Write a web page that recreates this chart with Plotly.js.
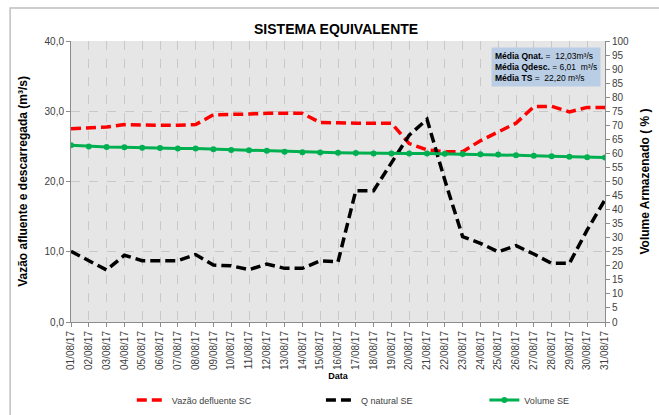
<!DOCTYPE html>
<html>
<head>
<meta charset="utf-8">
<script src="https://cdn.plot.ly/plotly-3.0.1.min.js"></script>
<style>html,body{margin:0;padding:0;background:#fff;}#chart{width:659px;height:415px;}</style>
</head>
<body>
<div id="chart"></div>
<script>
const dates = ["01/08/17","02/08/17","03/08/17","04/08/17","05/08/17","06/08/17","07/08/17","08/08/17","09/08/17","10/08/17",
  "11/08/17","12/08/17","13/08/17","14/08/17","15/08/17","16/08/17","17/08/17","18/08/17","19/08/17","20/08/17",
  "21/08/17","22/08/17","23/08/17","24/08/17","25/08/17","26/08/17","27/08/17","28/08/17","29/08/17","30/08/17","31/08/17"];
const vazaoDefluenteSC = [27.5,27.6,27.75,28.1,28.0,28.0,28.0,28.1,29.5,29.5,29.6,29.7,29.7,29.7,28.4,28.3,28.3,28.3,28.3,25.4,
  24.5,24.25,24.25,25.8,27.1,28.3,30.65,30.7,29.9,30.55,30.55];
const qNaturalSE = [10.06,8.73,7.4,9.5,8.73,8.73,8.73,9.6,8.1,8.0,7.45,8.25,7.64,7.64,8.7,8.57,18.7,18.7,22.6,26.6,
  28.85,20.2,12.15,11.2,10.0,10.87,9.68,8.35,8.35,13.1,17.4];
const volumeSE = [62.9,62.5,62.3,62.2,62.0,61.9,61.7,61.7,61.5,61.2,61.1,60.9,60.6,60.4,60.35,60.2,60.1,60.0,60.0,60.0,
  60.0,59.9,59.8,59.7,59.6,59.3,59.2,59.0,58.8,58.6,58.5];
const leftTicks = [0,10,20,30,40];
const rightTicks = [0,5,10,15,20,25,30,35,40,45,50,55,60,65,70,75,80,85,90,95,100];

const tickFont = {family: "Liberation Sans, Arial, sans-serif", size: 10, color: "#404040"};
const titleFont = {family: "Liberation Sans, Arial, sans-serif", size: 12, color: "#000"};

const traces = [
  {x: dates, y: vazaoDefluenteSC, name: "Vazão defluente SC", type: "scatter", mode: "lines",
   line: {color: "#ff0000", width: 3.5, dash: "10px,5px"}, legend: "legend", yaxis: "y"},
  {x: dates, y: qNaturalSE, name: "Q natural SE", type: "scatter", mode: "lines",
   line: {color: "#000000", width: 3.5, dash: "10px,5px"}, legend: "legend2", yaxis: "y"},
  {x: dates, y: volumeSE, name: "Volume SE", type: "scatter", mode: "lines+markers",
   line: {color: "#00b050", width: 3}, marker: {color: "#00b050", size: 6, symbol: "circle"}, legend: "legend3", yaxis: "y2"}
];

const legendFont = {family: "Liberation Sans, Arial, sans-serif", size: 9, color: "#404040"};
const legY = 0.036;
const layout = {
  width: 659, height: 415,
  margin: {l: 71, r: 54, t: 41, b: 93, autoexpand: false},
  paper_bgcolor: "#ffffff",
  plot_bgcolor: "#e6e6e6",
  separators: ",.",
  title: {text: "<b>SISTEMA EQUIVALENTE</b>", font: {family: "Liberation Sans, Arial, sans-serif", size: 14, color: "#000"},
          x: 0.51, xanchor: "center", y: 0.93, yanchor: "middle"},
  xaxis: {type: "category", tickangle: -90, tickfont: tickFont, showgrid: true, gridcolor: "#c8c8c8", griddash: "dash",
          gridwidth: 1, showline: true, linecolor: "#8c8c8c", ticks: "outside", ticklen: 4, tickcolor: "#8c8c8c",
          title: {text: "<b>Data</b>", font: {family: "Liberation Sans, Arial, sans-serif", size: 9, color: "#000"}, standoff: 3},
          range: [0, dates.length - 1], automargin: false},
  yaxis: {range: [0, 40], tickvals: leftTicks, tickformat: ".1f", tickfont: tickFont, showgrid: true, gridcolor: "#c8c8c8",
          griddash: "dash", showline: true, linecolor: "#8c8c8c", ticks: "outside", ticklen: 4, tickcolor: "#8c8c8c",
          zeroline: false, title: {text: "<b>Vazão afluente e descarregada (m³/s)</b>", font: titleFont, standoff: 14}, automargin: false},
  yaxis2: {range: [0, 100], tickvals: rightTicks, overlaying: "y", side: "right", tickfont: tickFont, showgrid: false,
           showline: true, linecolor: "#8c8c8c", ticks: "outside", ticklen: 4, tickcolor: "#8c8c8c", zeroline: false,
           title: {text: "<b>Volume Armazenado ( % )</b>", font: titleFont, standoff: 12}, automargin: false},
  showlegend: true,
  legend: {orientation: "h", xref: "container", yref: "container", x: 0.2, y: legY, xanchor: "left", yanchor: "middle", font: legendFont, bgcolor: "rgba(0,0,0,0)"},
  legend2: {orientation: "h", xref: "container", yref: "container", x: 0.487, y: legY, xanchor: "left", yanchor: "middle", font: legendFont, bgcolor: "rgba(0,0,0,0)"},
  legend3: {orientation: "h", xref: "container", yref: "container", x: 0.735, y: legY, xanchor: "left", yanchor: "middle", font: legendFont, bgcolor: "rgba(0,0,0,0)"},
  annotations: [{
    xref: "paper", yref: "paper", x: 0.9925, y: 0.979, xanchor: "right", yanchor: "top",
    text: "<b>Média Qnat.</b> =  12,03m³/s<br><b>Média Qdesc.</b> = 6,01  m³/s<br><b>Média TS</b> =  22,20 m³/s",
    align: "left", showarrow: false, bgcolor: "#b9cde5", borderpad: 3,
    font: {family: "Liberation Sans, Arial, sans-serif", size: 8.5, color: "#000"}
  }],
  shapes: [{type: "rect", xref: "paper", yref: "paper", x0: -0.114, x1: 1.2, y0: -0.5, y1: 1.117,
            line: {color: "#bfbfbf", width: 1.5}, fillcolor: "rgba(0,0,0,0)", layer: "below"}]
};

Plotly.newPlot("chart", traces, layout, {displayModeBar: false, staticPlot: true});
</script>
</body>
</html>
